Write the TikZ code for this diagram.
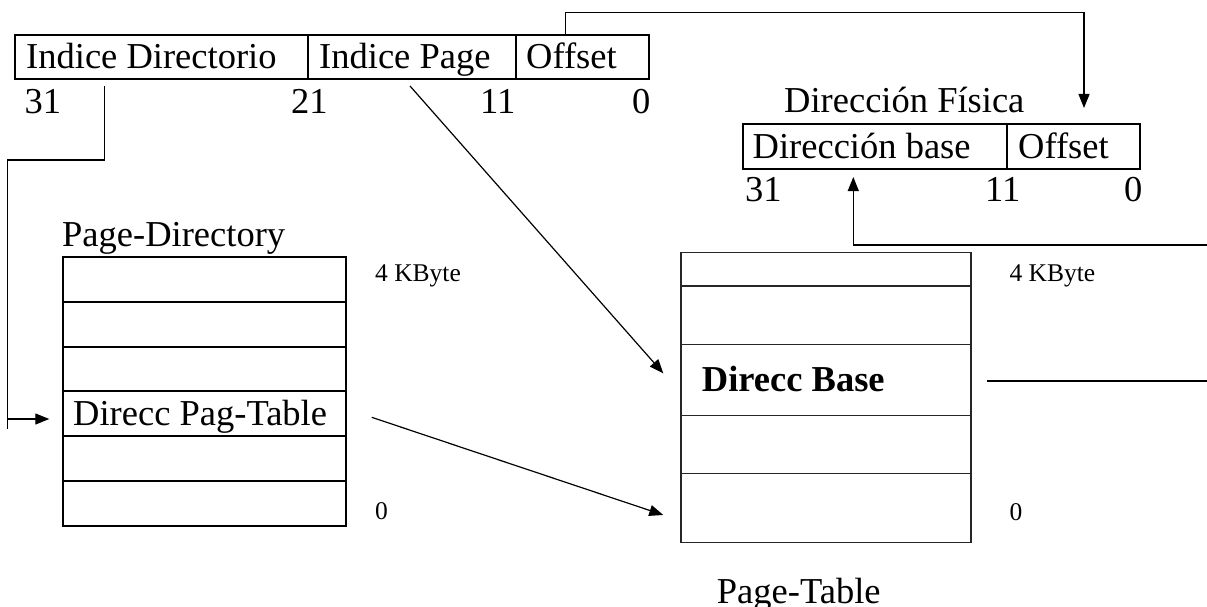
\documentclass[tikz,border=0pt]{standalone}
\usepackage{fontspec}
\setmainfont{Liberation Serif}
\usetikzlibrary{arrows.meta}
\newcommand\fbig{\fontsize{36.5}{40}\selectfont}
\newcommand\fsmall{\fontsize{25.5}{28}\selectfont}
\newcommand\mkcell[6][]{\node[cell,#1,minimum width={#5pt-#3pt},minimum height={#6pt-#4pt}] (#2) at (#3,#4) {};}
\tikzset{
  cell/.style={draw, line width=2pt, inner sep=0pt, outer sep=0pt, anchor=north west},
  thincell/.style={line width=1.5pt, draw=black!85},
  txt/.style={inner sep=0pt, anchor=base west, font=\fbig},
  small/.style={inner sep=0pt, anchor=base west, font=\fsmall},
  conn/.style={line width=1.2pt},
  arr/.style={conn, -{Triangle[length=14pt,width=11pt]}}
}
\begin{document}
\begin{tikzpicture}[x=1pt,y=-1pt]
\useasboundingbox (0,0) rectangle (1207,607);
% top linear address
\mkcell{td}{15}{34.7}{307.7}{79}
\mkcell{tp}{307.7}{34.7}{516}{79}
\mkcell{to}{516}{34.7}{649.3}{79}
\node[txt] (ttd) at (26,69) {Indice Directorio};
\node[txt] (ttp) at (319,69) {Indice Page};
\node[txt] (tto) at (526,69) {Offset};
\node[txt] (n31) at (24.5,114) {31};
\node[txt] (n21) at (291,114) {21};
\node[txt] (n11) at (480,114) {11};
\node[txt] (n0) at (632,114) {0};
% physical address
\node[txt] (tfis) at (784,113) {Dirección Física};
\mkcell{pb}{742.7}{124}{1007.3}{168.7}
\mkcell{po}{1007.3}{124}{1140}{168.7}
\node[txt] (tpb) at (752.5,158) {Dirección base};
\node[txt] (tpo) at (1018,158) {Offset};
\node[txt] (m31) at (745,201.7) {31};
\node[txt] (m11) at (985,201.7) {11};
\node[txt] (m0) at (1124,201.7) {0};
% page directory
\node[txt] (tpd) at (62,246.7) {Page-Directory};
\mkcell{d1}{62.7}{257.3}{346}{301.7}
\mkcell{d2}{62.7}{301.7}{346}{346.7}
\mkcell{d3}{62.7}{346.7}{346}{391}
\mkcell{d4}{62.7}{391}{346}{436}
\mkcell{d5}{62.7}{436}{346}{481}
\mkcell{d6}{62.7}{481}{346}{525.7}
\node[txt] (td4) at (73,425.7) {Direcc Pag-Table};
\node[small] (dk) at (375,281.7) {4 KByte};
\node[small] (dz) at (375,519) {0};
% page table
\mkcell[thincell]{t1}{681}{252.7}{971}{286}
\mkcell[thincell]{t2}{681}{286}{971}{344.3}
\mkcell[thincell]{t3}{681}{344.3}{971}{415.7}
\mkcell[thincell]{t4}{681}{415.7}{971}{473.7}
\mkcell[thincell]{t5}{681}{473.7}{971}{542.7}
\node[txt, font=\fbig\bfseries] (tt3) at (701.7,391.7) {Direcc Base};
\node[small] (tk) at (1009.3,281.7) {4 KByte};
\node[small] (tz) at (1009.3,520) {0};
\node[txt] (tpt) at (716.7,603) {Page-Table};
% connector coordinates
\coordinate (a1) at (104.3,86);
\coordinate (a2) at (104.3,160);
\coordinate (a3) at (7.3,160);
\coordinate (a4) at (7.3,429.3);
\coordinate (a5) at (7.3,419);
\coordinate (a6) at (49.3,419);
\coordinate (o1) at (565.7,34.7);
\coordinate (o2) at (565.7,12.7);
\coordinate (o3) at (1084,12.7);
\coordinate (o4) at (1084,108);
\coordinate (p1) at (410,86);
\coordinate (p2) at (663.3,373.3);
\coordinate (q1) at (371.7,417.3);
\coordinate (q2) at (663.3,515);
\coordinate (b1) at (986.7,381);
\coordinate (b2) at (1207,381);
\coordinate (u1) at (1207,245);
\coordinate (u2) at (853.3,245);
\coordinate (u3) at (853.3,177);
% connectors
\draw[conn] (a1) -- (a2) -- (a3) -- (a4);
\draw[arr] (a5) -- (a6);
\draw[arr] (o1) -- (o2) -- (o3) -- (o4);
\draw[arr] (p1) -- (p2);
\draw[arr] (q1) -- (q2);
\draw[conn] (b1) -- (b2);
\draw[arr] (u1) -- (u2) -- (u3);
\end{tikzpicture}
\end{document}
